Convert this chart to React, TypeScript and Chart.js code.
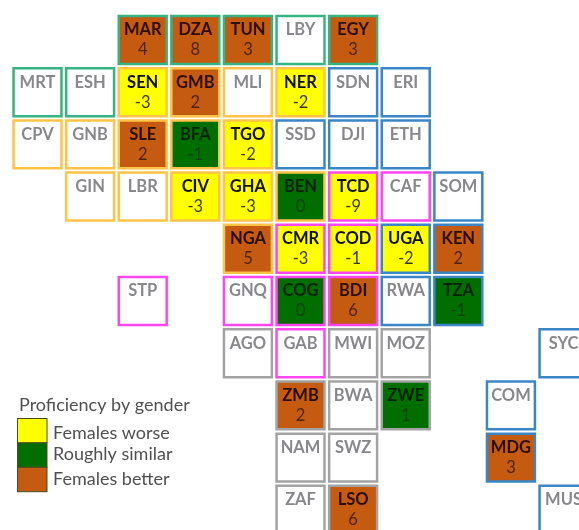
import React, { useEffect, useRef } from "react";
import { Chart, registerables } from "chart.js";

Chart.register(...registerables);

const codes = ["MAR","DZA","TUN","LBY","EGY","MRT","ESH","SEN","GMB","MLI","NER","SDN","ERI","CPV","GNB","SLE","BFA","TGO","SSD","DJI","ETH","GIN","LBR","CIV","GHA","BEN","TCD","CAF","SOM","NGA","CMR","COD","UGA","KEN","STP","GNQ","COG","BDI","RWA","TZA","AGO","GAB","MWI","MOZ","SYC","ZMB","BWA","ZWE","COM","NAM","SWZ","MDG","ZAF","LSO","MUS"];
const columns = [2,3,4,5,6,0,1,2,3,4,5,6,7,0,1,2,3,4,5,6,7,1,2,3,4,5,6,7,8,4,5,6,7,8,2,4,5,6,7,8,4,5,6,7,10,5,6,7,9,5,6,9,5,6,10];
const rows = [0,0,0,0,0,1,1,1,1,1,1,1,1,2,2,2,2,2,2,2,2,3,3,3,3,3,3,3,3,4,4,4,4,4,5,5,5,5,5,5,6,6,6,6,6,7,7,7,7,8,8,8,9,9,9];
const values = [4,8,3,null,3,null,null,-3,2,null,-2,null,null,null,null,2,-1,-2,null,null,null,null,null,-3,-3,0,-9,null,null,5,-3,-1,-2,2,null,null,0,6,null,-1,null,null,null,null,null,2,null,1,null,null,null,3,null,6,null];
// 0 = no data, 1 = females worse, 2 = roughly similar, 3 = females better
const status = [3,3,3,0,3,0,0,1,3,0,1,0,0,0,0,3,2,1,0,0,0,0,0,1,1,2,1,0,0,3,1,1,1,3,0,0,2,3,0,2,0,0,0,0,0,3,0,2,0,0,0,3,0,3,0];
const regions = ["N","N","N","N","N","N","N","W","W","W","W","E","E","W","W","W","W","W","E","E","E","W","W","W","W","W","C","C","E","W","C","C","E","E","C","C","C","C","E","E","S","C","S","S","E","S","S","S","E","S","S","E","S","S","E"];
const legendTitle = "Proficiency by gender";
const legendLabels = ["Females worse", "Roughly similar", "Females better"];

const FILL = ["#ffffff", "#ffff00", "#006f00", "#c55a11"];
const BORDER: Record<string, string> = { N: "#35b482", W: "#ffc347", E: "#3a86c6", C: "#ff46f0", S: "#a3a3a3" };
const CODE_INK = ["#88888c", "#101000", "#032203", "#2a0e00"];
const VALUE_INK = ["#88888c", "#3a3a08", "#164016", "#4e2408"];
const FONT = "Lato, Carlito, sans-serif";
const LEGEND_TEXT_Y = [433, 454, 479];

const textPlugin = {
  id: "tileText",
  afterDatasetsDraw(chart: any) {
    const { ctx, scales } = chart;
    ctx.save();
    ctx.textAlign = "center";
    ctx.textBaseline = "middle";
    codes.forEach((code, i) => {
      const x = scales.x.getPixelForValue(columns[i]);
      const y = scales.y.getPixelForValue(rows[i]);
      const s = status[i];
      ctx.font = `bold 16.5px ${FONT}`;
      ctx.fillStyle = CODE_INK[s];
      ctx.fillText(code, x, y - 10);
      if (values[i] !== null) {
        ctx.font = `16.5px ${FONT}`;
        ctx.fillStyle = VALUE_INK[s];
        ctx.fillText(String(values[i]), x, y + 10);
      }
    });
    ctx.textAlign = "left";
    ctx.font = `18px ${FONT}`;
    ctx.fillStyle = "#505050";
    ctx.fillText(legendTitle, 19, 405);
    legendLabels.forEach((label, i) => {
      const top = 418.5 + i * 24.4;
      ctx.fillStyle = FILL[i + 1];
      ctx.strokeStyle = "#4a4a20";
      ctx.lineWidth = 1;
      ctx.fillRect(17.5, top, 29.5, 24.4);
      ctx.strokeRect(17.5, top, 29.5, 24.4);
      ctx.font = `18px ${FONT}`;
      ctx.fillStyle = "#505050";
      ctx.fillText(label, 53, LEGEND_TEXT_Y[i]);
    });
    ctx.restore();
  },
};

export default function App() {
  const ref = useRef<HTMLCanvasElement>(null);
  useEffect(() => {
    const chart = new Chart(ref.current!, {
      type: "scatter",
      data: {
        datasets: [
          {
            label: "Proficiency by gender",
            data: codes.map((_, i) => ({ x: columns[i], y: rows[i] })),
            pointStyle: "rect",
            pointRadius: 33.9,
            pointBorderWidth: 2.5,
            pointBackgroundColor: status.map((s) => FILL[s]),
            pointBorderColor: regions.map((r) => BORDER[r]),
          },
        ],
      },
      options: {
        animation: false,
        responsive: false,
        layout: { padding: 0, autoPadding: false },
        plugins: { legend: { display: false }, tooltip: { enabled: false } },
        scales: {
          x: { type: "linear", display: false, min: -0.713, max: 10.294 },
          y: { type: "linear", display: false, reverse: true, min: -0.766, max: 9.387 },
        },
      },
      plugins: [textPlugin],
    });
    return () => chart.destroy();
  }, []);
  return (
    <div style={{ position: "absolute", left: 0, top: 0, width: 579, height: 530, background: "#fff" }}>
      <canvas ref={ref} width={579} height={530} style={{ display: "block", filter: "blur(0.6px)" }} />
    </div>
  );
}
